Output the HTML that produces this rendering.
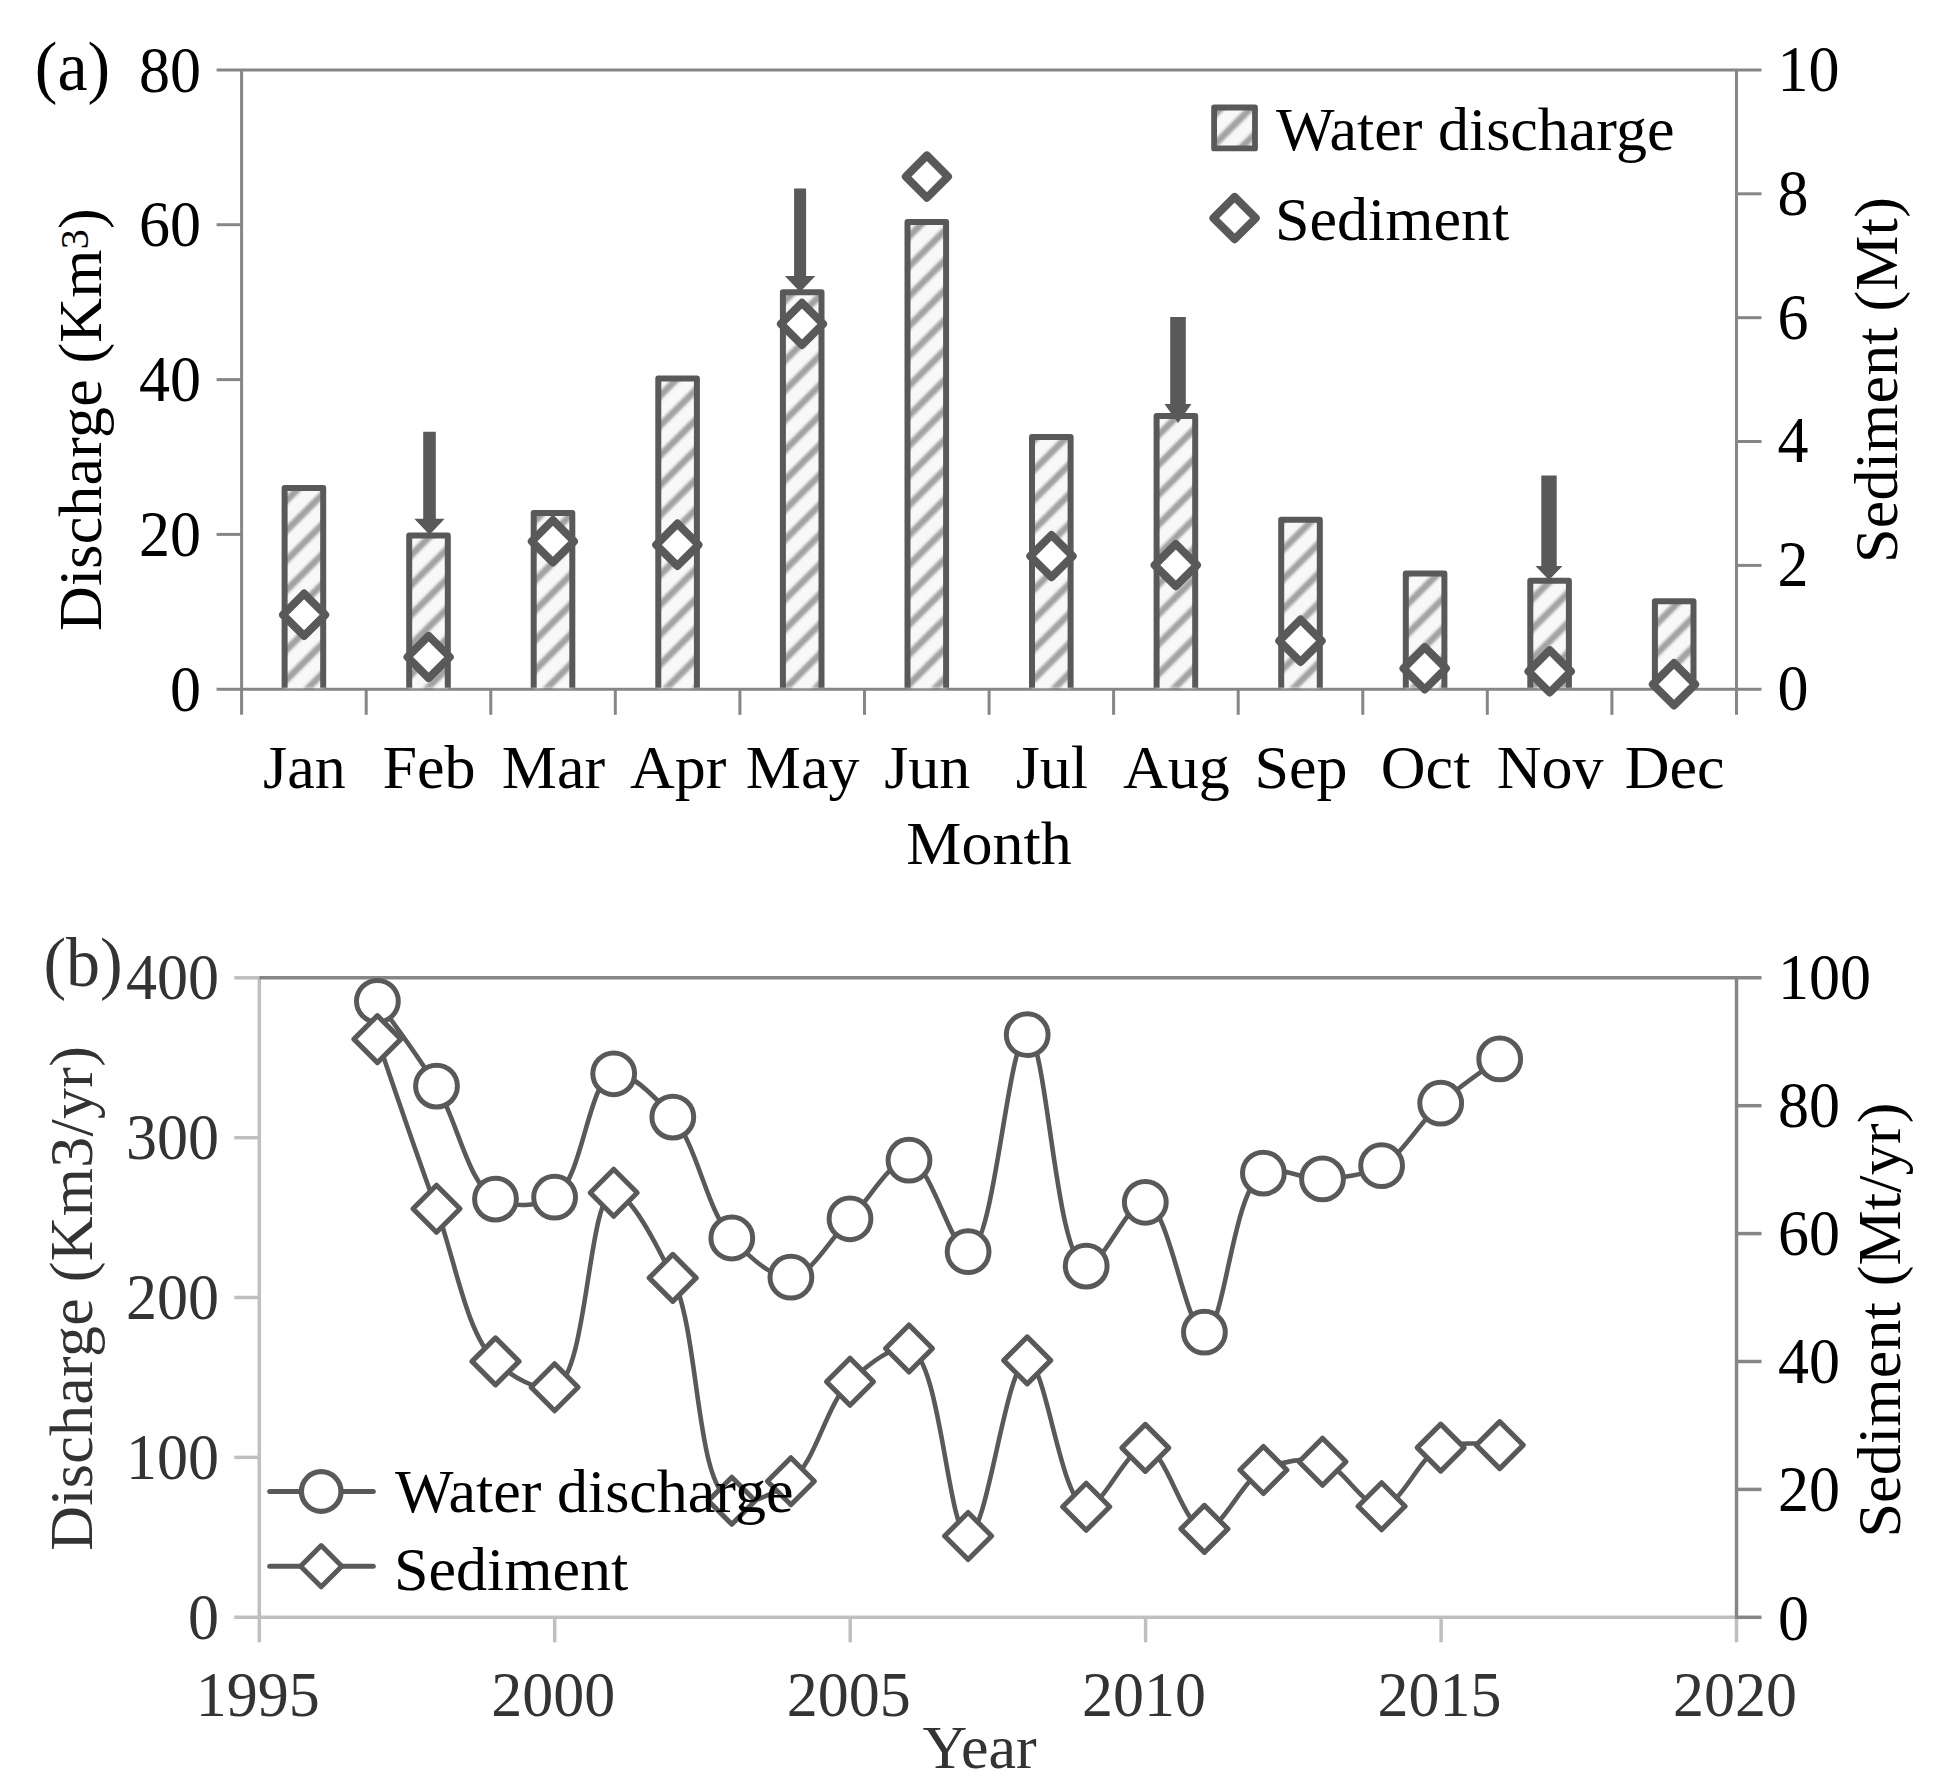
<!DOCTYPE html>
<html lang="en"><head><meta charset="utf-8"><title>Discharge and sediment</title>
<style>html,body{margin:0;padding:0;background:#fff}body{width:1936px;height:1792px;overflow:hidden}svg{display:block}text{font-family:"Liberation Serif", "Times New Roman", serif;font-size:62px}</style></head><body>
<svg width="1936" height="1792" viewBox="0 0 1936 1792">
<defs>
<pattern id="hatch" patternUnits="userSpaceOnUse" width="29.87" height="29.87" patternTransform="translate(10.40 0)"><rect width="29.87" height="29.87" fill="#f8f8f8"/><path d="M-6 6L6 -6M-6 35.87L35.87 -6M23.87 35.87L35.87 23.87" stroke="#a2a2a2" stroke-width="7.00" fill="none"/></pattern>
<pattern id="hatchL" patternUnits="userSpaceOnUse" width="29.87" height="29.87" patternTransform="translate(14.95 0)"><rect width="29.87" height="29.87" fill="#f8f8f8"/><path d="M-6 6L6 -6M-6 35.87L35.87 -6M23.87 35.87L35.87 23.87" stroke="#a2a2a2" stroke-width="7.00" fill="none"/></pattern>
<filter id="soft" x="-5%" y="-5%" width="110%" height="110%"><feGaussianBlur stdDeviation="1.2"/></filter>
</defs>
<rect width="1936" height="1792" fill="#fff"/>
<g stroke="#868686" stroke-width="3" fill="none">
<path d="M216.6 69.9H1761.5"/>
<path d="M241.6 69.9V714.8"/>
<path d="M1736.5 69.9V714.8"/>
<path d="M216.6 689.3H1761.5"/>
<path d="M216.6 534.4H241.6"/>
<path d="M216.6 379.6H241.6"/>
<path d="M216.6 224.7H241.6"/>
<path d="M1736.5 565.4H1761.5"/>
<path d="M1736.5 441.5H1761.5"/>
<path d="M1736.5 317.7H1761.5"/>
<path d="M1736.5 193.8H1761.5"/>
<path d="M366.2 689.3V714.8"/>
<path d="M490.8 689.3V714.8"/>
<path d="M615.3 689.3V714.8"/>
<path d="M739.9 689.3V714.8"/>
<path d="M864.5 689.3V714.8"/>
<path d="M989.1 689.3V714.8"/>
<path d="M1113.6 689.3V714.8"/>
<path d="M1238.2 689.3V714.8"/>
<path d="M1362.8 689.3V714.8"/>
<path d="M1487.3 689.3V714.8"/>
<path d="M1611.9 689.3V714.8"/>
</g>
<g filter="url(#soft)">
<rect x="284.6" y="488.0" width="38.6" height="199.8" fill="url(#hatch)"/>
<rect x="409.2" y="535.4" width="38.6" height="152.4" fill="url(#hatch)"/>
<rect x="533.7" y="513.0" width="38.6" height="174.8" fill="url(#hatch)"/>
<rect x="658.3" y="378.4" width="38.6" height="309.4" fill="url(#hatch)"/>
<rect x="782.9" y="292.3" width="38.6" height="395.5" fill="url(#hatch)"/>
<rect x="907.5" y="222.1" width="38.6" height="465.7" fill="url(#hatch)"/>
<rect x="1032.0" y="437.0" width="38.6" height="250.8" fill="url(#hatch)"/>
<rect x="1156.6" y="416.0" width="38.6" height="271.8" fill="url(#hatch)"/>
<rect x="1281.2" y="519.8" width="38.6" height="168.0" fill="url(#hatch)"/>
<rect x="1405.8" y="573.6" width="38.6" height="114.2" fill="url(#hatch)"/>
<rect x="1530.3" y="580.8" width="38.6" height="107.0" fill="url(#hatch)"/>
<rect x="1654.9" y="601.3" width="38.6" height="86.5" fill="url(#hatch)"/>
</g>
<g fill="none" stroke="#595959" stroke-width="6" stroke-linejoin="round">
<path d="M284.6 687.8V488.0H323.2V687.8"/>
<path d="M409.2 687.8V535.4H447.8V687.8"/>
<path d="M533.7 687.8V513.0H572.3V687.8"/>
<path d="M658.3 687.8V378.4H696.9V687.8"/>
<path d="M782.9 687.8V292.3H821.5V687.8"/>
<path d="M907.5 687.8V222.1H946.1V687.8"/>
<path d="M1032.0 687.8V437.0H1070.6V687.8"/>
<path d="M1156.6 687.8V416.0H1195.2V687.8"/>
<path d="M1281.2 687.8V519.8H1319.8V687.8"/>
<path d="M1405.8 687.8V573.6H1444.4V687.8"/>
<path d="M1530.3 687.8V580.8H1568.9V687.8"/>
<path d="M1654.9 687.8V601.3H1693.5V687.8"/>
</g>
<g fill="#595959">
<path d="M423.2 431.8H435.8V518.7H444.7L429.5 534.7L414.3 518.7H423.2Z"/>
<path d="M794.1 188.5H806.1V276.0H815.3L800.1 292.0L784.9 276.0H794.1Z"/>
<path d="M1170.2 317.0H1185.8V404.0H1191.5L1178.0 423.0L1164.5 404.0H1170.2Z"/>
<path d="M1541.3 475.4H1556.7V566.0H1562.5L1549.0 580.0L1535.5 566.0H1541.3Z"/>
</g>
<g fill="#fff" stroke="#595959" stroke-width="8" stroke-linejoin="round">
<path d="M304.1 593.6L325.2 614.8L304.1 635.9L283.0 614.8Z"/>
<path d="M428.6 635.9L449.8 657.0L428.6 678.1L407.5 657.0Z"/>
<path d="M552.9 520.1L574.0 541.3L552.9 562.4L531.8 541.3Z"/>
<path d="M677.4 523.6L698.5 544.8L677.4 565.9L656.2 544.8Z"/>
<path d="M802.0 302.8L823.1 323.9L802.0 345.0L780.9 323.9Z"/>
<path d="M926.9 155.4L948.0 176.6L926.9 197.8L905.8 176.6Z"/>
<path d="M1051.5 535.0L1072.7 556.1L1051.5 577.2L1030.3 556.1Z"/>
<path d="M1175.8 544.0L1197.0 565.1L1175.8 586.2L1154.6 565.1Z"/>
<path d="M1300.5 619.6L1321.7 640.8L1300.5 661.9L1279.3 640.8Z"/>
<path d="M1424.7 647.2L1445.9 668.4L1424.7 689.5L1403.5 668.4Z"/>
<path d="M1549.7 650.2L1570.9 671.4L1549.7 692.5L1528.5 671.4Z"/>
<path d="M1674.0 663.1L1695.2 684.3L1674.0 705.4L1652.8 684.3Z"/>
</g>
<g filter="url(#soft)"><rect x="1214.1" y="107.5" width="40.9" height="40.9" fill="url(#hatchL)"/></g>
<rect x="1214.1" y="107.5" width="40.9" height="40.9" fill="none" stroke="#595959" stroke-width="5.8" stroke-linejoin="round"/>
<path d="M1234.6 196.9L1255.8 218.1L1234.6 239.2L1213.4 218.1Z" fill="#fff" stroke="#595959" stroke-width="8" stroke-linejoin="round"/>
<g fill="#000">
<text transform="translate(72.5 89.9) scale(1 1.020)" text-anchor="middle" style="font-size:68px">(a)</text>
<text transform="translate(201.0 710.9) scale(1 1.040)" text-anchor="end">0</text>
<text transform="translate(201.0 556.0) scale(1 1.040)" text-anchor="end">20</text>
<text transform="translate(201.0 401.2) scale(1 1.040)" text-anchor="end">40</text>
<text transform="translate(201.0 246.3) scale(1 1.040)" text-anchor="end">60</text>
<text transform="translate(201.0 91.5) scale(1 1.040)" text-anchor="end">80</text>
<text transform="translate(1777.5 710.1) scale(1 1.040)">0</text>
<text transform="translate(1777.5 586.2) scale(1 1.040)">2</text>
<text transform="translate(1777.5 462.3) scale(1 1.040)">4</text>
<text transform="translate(1777.5 338.5) scale(1 1.040)">6</text>
<text transform="translate(1777.5 214.6) scale(1 1.040)">8</text>
<text transform="translate(1777.5 90.7) scale(1 1.040)">10</text>
<text transform="translate(304.4 787.8)" text-anchor="middle">Jan</text>
<text transform="translate(429.0 787.8)" text-anchor="middle">Feb</text>
<text transform="translate(553.5 787.8)" text-anchor="middle">Mar</text>
<text transform="translate(678.1 787.8)" text-anchor="middle">Apr</text>
<text transform="translate(802.7 787.8)" text-anchor="middle">May</text>
<text transform="translate(927.3 787.8)" text-anchor="middle">Jun</text>
<text transform="translate(1051.8 787.8)" text-anchor="middle">Jul</text>
<text transform="translate(1176.4 787.8)" text-anchor="middle">Aug</text>
<text transform="translate(1301.0 787.8)" text-anchor="middle">Sep</text>
<text transform="translate(1425.6 787.8)" text-anchor="middle">Oct</text>
<text transform="translate(1550.1 787.8)" text-anchor="middle">Nov</text>
<text transform="translate(1674.7 787.8)" text-anchor="middle">Dec</text>
<text transform="translate(989.0 864.0)" text-anchor="middle">Month</text>
<text transform="translate(101.3 631.0) rotate(-90)" letter-spacing="0.18">Discharge (Km<tspan dy="-13" style="font-size:40px">3</tspan><tspan dy="13">)</tspan></text>
<text transform="translate(1896.5 380.0) rotate(-90)" text-anchor="middle" letter-spacing="0.2">Sediment (Mt)</text>
<text transform="translate(1276.0 149.6)">Water discharge</text>
<text transform="translate(1275.0 239.8)">Sediment</text>
</g>
<g fill="none" stroke-width="3.5">
<g stroke="#bfbfbf">
<path d="M259.3 977.8V1642.3"/>
<path d="M234.3 1617.3H1736.5"/>
<path d="M234.3 1457.4H259.3"/>
<path d="M234.3 1297.5H259.3"/>
<path d="M234.3 1137.7H259.3"/>
<path d="M234.3 977.8H259.3"/>
<path d="M554.7 1617.3V1642.3"/>
<path d="M850.2 1617.3V1642.3"/>
<path d="M1145.6 1617.3V1642.3"/>
<path d="M1441.1 1617.3V1642.3"/>
<path d="M1736.5 1617.3V1642.3"/>
</g>
<g stroke="#868686">
<path d="M259.3 977.8H1761.5"/>
<path d="M1736.5 977.8V1618.8"/>
<path d="M1736.5 1617.3H1761.5"/>
<path d="M1736.5 1489.4H1761.5"/>
<path d="M1736.5 1361.5H1761.5"/>
<path d="M1736.5 1233.6H1761.5"/>
<path d="M1736.5 1105.7H1761.5"/>
</g></g>
<g stroke="#595959" stroke-linejoin="miter">
<path d="M377.4 1001.3C377.4 1001.3 417.9 1055.6 436.5 1086.1C457.6 1120.9 468.4 1185.3 495.5 1199.1C512.4 1207.7 537.9 1206.7 554.6 1197.2C582.7 1181.2 588.4 1077.8 613.7 1073.8C630.8 1071.1 655.6 1097.3 672.8 1117.1C697.8 1146.0 706.4 1210.2 731.8 1238.0C748.9 1256.7 772.1 1278.7 790.9 1277.2C811.6 1275.5 830.3 1238.3 850.0 1218.8C869.7 1199.3 890.7 1158.9 909.0 1160.2C930.7 1161.7 951.2 1251.0 968.1 1251.7C994.6 1252.7 1007.8 1035.1 1027.2 1034.7C1047.2 1034.3 1055.4 1265.2 1086.2 1266.1C1102.7 1266.6 1127.8 1201.1 1145.3 1202.3C1169.1 1204.0 1185.6 1331.9 1204.4 1332.2C1225.2 1332.5 1231.9 1188.8 1263.4 1173.1C1279.9 1164.9 1302.9 1180.1 1322.5 1178.9C1342.3 1177.7 1363.6 1175.6 1381.6 1165.7C1403.9 1153.4 1419.9 1121.6 1440.7 1103.2C1459.5 1086.4 1499.7 1058.9 1499.7 1058.9" fill="none" stroke-width="4.6"/>
<g fill="#fff" stroke-width="5">
<circle cx="377.4" cy="1001.3" r="20.9"/>
<circle cx="436.5" cy="1086.1" r="20.9"/>
<circle cx="495.5" cy="1199.1" r="20.9"/>
<circle cx="554.6" cy="1197.2" r="20.9"/>
<circle cx="613.7" cy="1073.8" r="20.9"/>
<circle cx="672.8" cy="1117.1" r="20.9"/>
<circle cx="731.8" cy="1238.0" r="20.9"/>
<circle cx="790.9" cy="1277.2" r="20.9"/>
<circle cx="850.0" cy="1218.8" r="20.9"/>
<circle cx="909.0" cy="1160.2" r="20.9"/>
<circle cx="968.1" cy="1251.7" r="20.9"/>
<circle cx="1027.2" cy="1034.7" r="20.9"/>
<circle cx="1086.2" cy="1266.1" r="20.9"/>
<circle cx="1145.3" cy="1202.3" r="20.9"/>
<circle cx="1204.4" cy="1332.2" r="20.9"/>
<circle cx="1263.4" cy="1173.1" r="20.9"/>
<circle cx="1322.5" cy="1178.9" r="20.9"/>
<circle cx="1381.6" cy="1165.7" r="20.9"/>
<circle cx="1440.7" cy="1103.2" r="20.9"/>
<circle cx="1499.7" cy="1058.9" r="20.9"/>
</g>
<path d="M377.4 1039.1C377.4 1039.1 416.2 1153.5 436.5 1208.7C455.6 1260.8 466.0 1333.2 495.5 1361.4C512.1 1377.2 538.2 1392.0 554.6 1387.3C588.0 1377.8 587.8 1192.6 613.7 1192.8C630.7 1193.0 656.0 1243.1 672.8 1277.9C700.3 1335.0 695.0 1488.1 731.8 1500.8C748.1 1506.4 773.7 1494.3 790.9 1481.2C816.1 1462.1 825.8 1404.5 850.0 1381.7C867.3 1365.3 892.6 1344.8 909.0 1348.5C940.9 1355.7 948.0 1536.2 968.1 1536.0C987.4 1535.8 1006.4 1359.9 1027.2 1360.4C1046.0 1360.8 1060.8 1504.6 1086.2 1506.8C1103.3 1508.3 1126.6 1446.9 1145.3 1447.9C1166.3 1449.0 1183.4 1527.8 1204.4 1528.9C1223.1 1529.9 1241.2 1480.7 1263.4 1470.0C1281.5 1461.3 1304.0 1457.1 1322.5 1461.7C1343.7 1466.9 1362.6 1507.3 1381.6 1506.2C1402.1 1505.1 1418.4 1456.9 1440.7 1447.6C1458.7 1440.1 1499.7 1445.1 1499.7 1445.1" fill="none" stroke-width="4.6"/>
<g fill="#fff" stroke-width="5.05" stroke-linejoin="round">
<path d="M377.4 1015.6L400.9 1039.1L377.4 1062.6L353.9 1039.1Z"/>
<path d="M436.5 1185.2L460.0 1208.7L436.5 1232.2L413.0 1208.7Z"/>
<path d="M495.5 1337.9L519.0 1361.4L495.5 1384.9L472.0 1361.4Z"/>
<path d="M554.6 1363.8L578.1 1387.3L554.6 1410.8L531.1 1387.3Z"/>
<path d="M613.7 1169.3L637.2 1192.8L613.7 1216.3L590.2 1192.8Z"/>
<path d="M672.8 1254.4L696.2 1277.9L672.8 1301.4L649.2 1277.9Z"/>
<path d="M731.8 1477.3L755.3 1500.8L731.8 1524.3L708.3 1500.8Z"/>
<path d="M790.9 1457.8L814.4 1481.2L790.9 1504.8L767.4 1481.2Z"/>
<path d="M850.0 1358.2L873.5 1381.7L850.0 1405.2L826.5 1381.7Z"/>
<path d="M909.0 1325.0L932.5 1348.5L909.0 1372.0L885.5 1348.5Z"/>
<path d="M968.1 1512.5L991.6 1536.0L968.1 1559.5L944.6 1536.0Z"/>
<path d="M1027.2 1336.9L1050.7 1360.4L1027.2 1383.9L1003.7 1360.4Z"/>
<path d="M1086.2 1483.3L1109.7 1506.8L1086.2 1530.3L1062.7 1506.8Z"/>
<path d="M1145.3 1424.4L1168.8 1447.9L1145.3 1471.4L1121.8 1447.9Z"/>
<path d="M1204.4 1505.4L1227.9 1528.9L1204.4 1552.4L1180.9 1528.9Z"/>
<path d="M1263.4 1446.5L1286.9 1470.0L1263.4 1493.5L1239.9 1470.0Z"/>
<path d="M1322.5 1438.2L1346.0 1461.7L1322.5 1485.2L1299.0 1461.7Z"/>
<path d="M1381.6 1482.7L1405.1 1506.2L1381.6 1529.7L1358.1 1506.2Z"/>
<path d="M1440.7 1424.1L1464.2 1447.6L1440.7 1471.1L1417.2 1447.6Z"/>
<path d="M1499.7 1421.6L1523.2 1445.1L1499.7 1468.6L1476.2 1445.1Z"/>
</g>
<path d="M269.7 1491.5H373.3" fill="none" stroke-width="5" stroke-linecap="round"/>
<circle cx="321.2" cy="1491.5" r="19.8" fill="#fff" stroke-width="5.3"/>
<path d="M269.7 1566.2H373.3" fill="none" stroke-width="5" stroke-linecap="round"/>
<path d="M321.2 1545.6L341.8 1566.2L321.2 1586.8L300.6 1566.2Z" fill="#fff" stroke-width="5" stroke-linejoin="round"/>
</g>
<g fill="#333333">
<text transform="translate(83.1 986.0) scale(1 1.020)" text-anchor="middle" style="font-size:68px">(b)</text>
<text transform="translate(219.0 1638.9) scale(1 1.040)" text-anchor="end">0</text>
<text transform="translate(219.0 1479.0) scale(1 1.040)" text-anchor="end">100</text>
<text transform="translate(219.0 1319.1) scale(1 1.040)" text-anchor="end">200</text>
<text transform="translate(219.0 1159.3) scale(1 1.040)" text-anchor="end">300</text>
<text transform="translate(219.0 999.4) scale(1 1.040)" text-anchor="end">400</text>
<text transform="translate(257.8 1715.8) scale(1 1.025)" text-anchor="middle">1995</text>
<text transform="translate(553.2 1715.8) scale(1 1.025)" text-anchor="middle">2000</text>
<text transform="translate(848.7 1715.8) scale(1 1.025)" text-anchor="middle">2005</text>
<text transform="translate(1144.1 1715.8) scale(1 1.025)" text-anchor="middle">2010</text>
<text transform="translate(1439.6 1715.8) scale(1 1.025)" text-anchor="middle">2015</text>
<text transform="translate(1735.0 1715.8) scale(1 1.025)" text-anchor="middle">2020</text>
<text transform="translate(979.5 1767.5)" text-anchor="middle">Year</text>
<text transform="translate(91.8 1298.3) rotate(-90)" text-anchor="middle" letter-spacing="0.28">Discharge (Km3/yr)</text>
</g>
<g fill="#000">
<text transform="translate(1778.0 1639.6) scale(1 1.040)">0</text>
<text transform="translate(1778.0 1511.4) scale(1 1.040)">20</text>
<text transform="translate(1778.0 1383.3) scale(1 1.040)">40</text>
<text transform="translate(1778.0 1255.1) scale(1 1.040)">60</text>
<text transform="translate(1778.0 1127.0) scale(1 1.040)">80</text>
<text transform="translate(1778.0 998.8) scale(1 1.040)">100</text>
<text transform="translate(1900.3 1320.0) rotate(-90)" text-anchor="middle" letter-spacing="0.18">Sediment (Mt/yr)</text>
<text transform="translate(395.0 1512.0)">Water discharge</text>
<text transform="translate(394.0 1589.5)">Sediment</text>
</g>
</svg></body></html>
